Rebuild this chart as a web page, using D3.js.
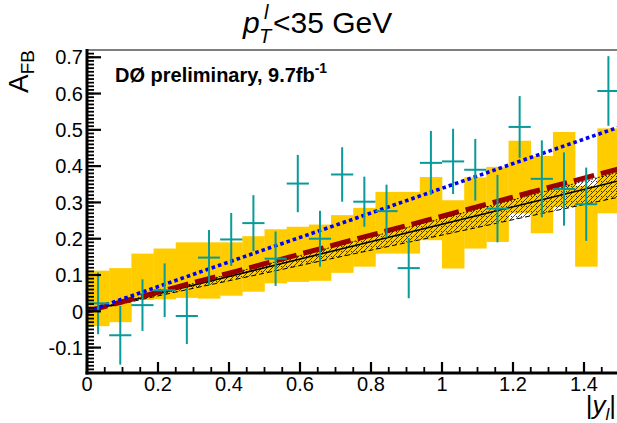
<!DOCTYPE html>
<html><head><meta charset="utf-8">
<script src="https://cdn.jsdelivr.net/npm/d3@7"></script>
<style>
body{margin:0;background:#fff}
svg{display:block;font-family:"Liberation Sans",Arial,Helvetica,sans-serif}
</style>
</head><body>
<svg id="c" width="617" height="423"></svg>
<script>
// ---- data ----
const binCenters = [0.03125,0.09375,0.15625,0.21875,0.28125,0.34375,0.40625,0.46875,0.53125,0.59375,0.65625,0.71875,0.78125,0.84375,0.90625,0.96875,1.03125,1.09375,1.15625,1.21875,1.28125,1.34375,1.40625,1.46875];
const binHalfWidth = 0.03125;
const dataValues = [0.022,-0.066,0.017,0.058,-0.013,0.148,0.198,0.243,0.145,0.352,0.200,0.377,0.302,0.276,0.119,0.409,0.413,0.390,0.283,0.508,0.365,0.337,0.295,0.607];
const dataErrors = [0.085,0.081,0.071,0.074,0.077,0.076,0.073,0.077,0.075,0.079,0.077,0.075,0.069,0.073,0.083,0.088,0.090,0.085,0.093,0.085,0.106,0.101,0.101,0.096];
const bandLow  = [-0.041,-0.030,0.031,0.033,0.037,0.035,0.043,0.054,0.077,0.081,0.084,0.106,0.123,0.159,0.159,0.196,0.118,0.173,0.191,0.270,0.215,0.288,0.123,0.270];
const bandHigh = [0.112,0.119,0.159,0.173,0.190,0.190,0.190,0.207,0.226,0.233,0.239,0.265,0.285,0.329,0.329,0.370,0.306,0.369,0.398,0.470,0.428,0.494,0.345,0.504];
const lineX      = [0, 0.25, 0.5, 0.75, 1.0, 1.25, 1.5];
const blueDotted = [0, 0.085, 0.170, 0.254, 0.339, 0.424, 0.508];
const redDashed  = [0, 0.066, 0.131, 0.197, 0.262, 0.328, 0.393];
const blackSolid = [0, 0.060, 0.120, 0.180, 0.240, 0.300, 0.360];
const hatchHigh  = [0, 0.064, 0.128, 0.192, 0.256, 0.320, 0.384];
const hatchLow   = [0, 0.053, 0.105, 0.158, 0.210, 0.263, 0.315];
const yTickValues = [-0.1,0,0.1,0.2,0.3,0.4,0.5,0.6,0.7];
const yTickLabels = ["-0.1","0","0.1","0.2","0.3","0.4","0.5","0.6","0.7"];
const xTickValues = [0,0.2,0.4,0.6,0.8,1.0,1.2,1.4];
const xTickLabels = ["0","0.2","0.4","0.6","0.8","1","1.2","1.4"];

// ---- layout ----
const svg = d3.select("#c");
const L = 87, R = 619.5, T = 50, B = 373;
const x = d3.scaleLinear().domain([0,1.5]).range([L,R]);
const y = d3.scaleLinear().domain([-0.17,0.72]).range([B,T]);

const defs = svg.append("defs");
defs.append("clipPath").attr("id","clip").append("rect")
  .attr("x",L).attr("y",T).attr("width",R-L).attr("height",B-T);
const pat = defs.append("pattern").attr("id","hatch").attr("patternUnits","userSpaceOnUse")
  .attr("width",5).attr("height",5);
pat.append("path").attr("d","M0,5 L5,0 M-1,1 L1,-1 M4,6 L6,4").attr("stroke","#000").attr("stroke-width",0.7);
pat.append("rect").attr("x",1).attr("y",1).attr("width",0.9).attr("height",0.9).attr("fill","#000");

const g = svg.append("g").attr("clip-path","url(#clip)");

// yellow bands
g.selectAll("rect.band").data(binCenters).enter().append("rect")
  .attr("x",d=>x(d-binHalfWidth)).attr("width",d=>x(d+binHalfWidth)-x(d-binHalfWidth)+0.3)
  .attr("y",(d,i)=>y(bandHigh[i])).attr("height",(d,i)=>y(bandLow[i])-y(bandHigh[i]))
  .attr("fill","#ffcc00");

// hatched band
const pts = lineX.map((v,i)=>({x:v,lo:hatchLow[i],hi:hatchHigh[i],b:blueDotted[i],r:redDashed[i],k:blackSolid[i]}));
g.append("path").datum(pts)
  .attr("d",d3.area().x(d=>x(d.x)).y0(d=>y(d.lo)).y1(d=>y(d.hi)))
  .attr("fill","url(#hatch)");
g.append("path").datum(pts).attr("d",d3.line().x(d=>x(d.x)).y(d=>y(d.hi)))
  .attr("fill","none").attr("stroke","#000").attr("stroke-width",1).attr("stroke-dasharray","1.5,2");
g.append("path").datum(pts).attr("d",d3.line().x(d=>x(d.x)).y(d=>y(d.lo)))
  .attr("fill","none").attr("stroke","#000").attr("stroke-width",1).attr("stroke-dasharray","5,3");

// black solid
g.append("path").datum(pts).attr("d",d3.line().x(d=>x(d.x)).y(d=>y(d.k)))
  .attr("fill","none").attr("stroke","#000").attr("stroke-width",1.6);
// red dashed
g.append("path").datum(pts).attr("d",d3.line().x(d=>x(d.x)).y(d=>y(d.r)))
  .attr("fill","none").attr("stroke","#990000").attr("stroke-width",5).attr("stroke-dasharray","21,7");
// blue dotted
g.append("path").datum(pts).attr("d",d3.line().x(d=>x(d.x)).y(d=>y(d.b)))
  .attr("fill","none").attr("stroke","#0000ff").attr("stroke-width",3.6).attr("stroke-dasharray","3.6,3");

// data crosses
const cross = g.selectAll("g.pt").data(binCenters).enter().append("g")
  .attr("stroke","#0a9a9a").attr("stroke-width",2);
cross.append("line").attr("x1",d=>x(d-binHalfWidth)).attr("x2",d=>x(d+binHalfWidth))
  .attr("y1",(d,i)=>y(dataValues[i])).attr("y2",(d,i)=>y(dataValues[i]));
cross.append("line").attr("x1",d=>x(d)).attr("x2",d=>x(d))
  .attr("y1",(d,i)=>y(dataValues[i]-dataErrors[i])).attr("y2",(d,i)=>y(dataValues[i]+dataErrors[i]));

// frame top
svg.append("line").attr("x1",L).attr("x2",617).attr("y1",T).attr("y2",T)
  .attr("stroke","#555").attr("stroke-width",1.5);

// y axis
const yAxis = svg.append("g");
const yMinor = d3.range(-16,72).map(v=>v/100);
yAxis.selectAll("line.mi").data(yMinor).enter().append("line")
  .attr("x1",L).attr("x2",L+7).attr("y1",d=>y(d)).attr("y2",d=>y(d))
  .attr("stroke","#000").attr("stroke-width",1.8);
yAxis.selectAll("line.ma").data(yTickValues).enter().append("line")
  .attr("x1",L).attr("x2",L+14).attr("y1",d=>y(d)).attr("y2",d=>y(d))
  .attr("stroke","#000").attr("stroke-width",2.2);
yAxis.selectAll("text").data(yTickValues).enter().append("text")
  .attr("x",L-4).attr("y",d=>y(d)).attr("dy","0.36em").attr("text-anchor","end")
  .attr("font-size",20).text((d,i)=>yTickLabels[i]);
yAxis.append("line").attr("x1",L).attr("x2",L).attr("y1",T-1).attr("y2",B+1.5)
  .attr("stroke","#000").attr("stroke-width",3);

// x axis
const xAxis = svg.append("g");
const xMinor = d3.range(0,31).map(v=>v*0.05);
xAxis.selectAll("line.mi").data(xMinor).enter().append("line")
  .attr("x1",d=>x(d)).attr("x2",d=>x(d)).attr("y1",B).attr("y2",B-6)
  .attr("stroke","#000").attr("stroke-width",1.8);
xAxis.selectAll("line.ma").data(xTickValues).enter().append("line")
  .attr("x1",d=>x(d)).attr("x2",d=>x(d)).attr("y1",B).attr("y2",B-11)
  .attr("stroke","#000").attr("stroke-width",2.2);
xAxis.selectAll("text").data(xTickValues).enter().append("text")
  .attr("x",d=>x(d)).attr("y",391).attr("text-anchor","middle")
  .attr("font-size",20).text((d,i)=>xTickLabels[i]);
xAxis.append("line").attr("x1",L-1.5).attr("x2",617).attr("y1",B).attr("y2",B)
  .attr("stroke","#000").attr("stroke-width",3);

// axis titles
const xt = svg.append("text").attr("x",616).attr("y",414).attr("text-anchor","end").attr("font-size",26);
xt.append("tspan").text("|");
xt.append("tspan").attr("font-style","italic").text("y");
xt.append("tspan").attr("font-style","italic").attr("font-size",17).attr("dy",6).text("l");
xt.append("tspan").attr("dy",-6).text("|");

const yt = svg.append("text").attr("transform","translate(28,50) rotate(-90)").attr("text-anchor","end").attr("font-size",28);
yt.append("tspan").text("A");
yt.append("tspan").attr("font-size",19).attr("dy",6).text("FB");

// title
const tt = svg.append("g").attr("font-size",30);
tt.append("text").attr("x",243).attr("y",33).attr("font-style","italic").text("p");
tt.append("text").attr("x",259).attr("y",43).attr("font-style","italic").attr("font-size",20).text("T");
tt.append("text").attr("x",264).attr("y",19).attr("font-style","italic").attr("font-size",20).text("l");
tt.append("text").attr("x",273).attr("y",33).text("<35 GeV");

// label
const lab = svg.append("text").attr("x",115).attr("y",82).attr("font-size",20).attr("font-weight","bold");
lab.append("tspan").text("DØ preliminary, 9.7fb");
lab.append("tspan").attr("font-size",14).attr("dy",-9).text("-1");
</script>
</body></html>
